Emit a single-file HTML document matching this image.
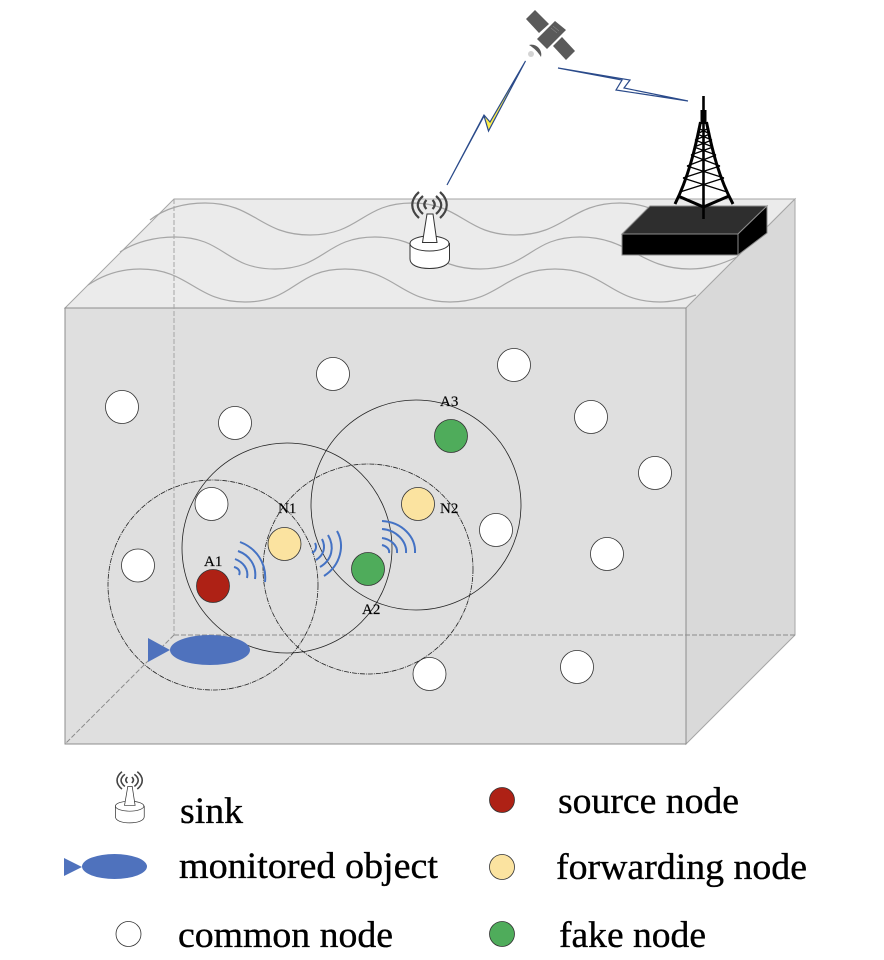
<!DOCTYPE html>
<html>
<head>
<meta charset="utf-8">
<style>
html,body{margin:0;padding:0;background:#fff;}
svg{display:block;}
text{font-family:"Liberation Serif",serif;fill:#000;}
</style>
</head>
<body>
<svg xmlns="http://www.w3.org/2000/svg" xmlns:xlink="http://www.w3.org/1999/xlink" width="884" height="960" viewBox="0 0 884 960">
<defs>
<g id="sink">
  <path d="M410,243.500V259C410,265 418,268.500 429.500,268.500C441,268.500 449.500,265 449.500,259V243.500Z" fill="#fff" stroke="#333" stroke-width="1"/>
  <ellipse cx="429.500" cy="243.500" rx="19.500" ry="7.500" fill="#fff" stroke="#333" stroke-width="1"/>
  <path d="M422.500,242.500L427,214H433L437,242.500Z" fill="#fff" stroke="#333" stroke-width="1"/>
  <g fill="none" stroke="#444" stroke-width="2.200">
    <path d="M419,192C410,200 410,210 419,218"/>
    <path d="M423,196C416,202 416,208 423,214"/>
    <path d="M426.500,200C423.500,203 423.500,206 426.500,209"/>
    <path d="M440,192C449,200 449,210 440,218"/>
    <path d="M436,196C443,202 443,208 436,214"/>
    <path d="M432.500,200C435.500,203 435.500,206 432.500,209"/>
  </g>
</g>
</defs>

<!-- box -->
<polygon points="65,308 174,199 795,199 686,308" fill="#ebebeb" stroke="#a6a6a6" stroke-width="1"/>
<polygon points="686,308 795,199 795,635 686,744" fill="#d9d9d9" stroke="#a6a6a6" stroke-width="1"/>
<rect x="65" y="308" width="621" height="436" fill="#dfdfdf" stroke="#8c8c8c" stroke-width="1"/>
<g fill="none" stroke="#a6a6a6" stroke-width="1" stroke-dasharray="5 2">
  <line x1="174" y1="199" x2="174" y2="635"/>
  <line x1="174" y1="635" x2="795" y2="635" stroke="#8c8c8c"/>
  <line x1="174" y1="635" x2="65" y2="744" stroke="#8c8c8c"/>
</g>

<!-- waves -->
<g fill="none" stroke="#a6a6a6" stroke-width="1.200">
  <path d="M150,220C165,208 185,203 205,203C255,203 260,235 310,235C360,235 362,203 412,203C462,203 465,235 515,235C565,235 570,203 620,203C632,203 642,205 652,209"/>
  <path d="M120,252C135,242 155,237 175,237C225,237 225,269 275,269C325,269 325,237 375,237C425,237 430,269 480,269C530,269 530,237 580,237C630,237 640,269 690,269C708,269 722,264 737,257"/>
  <path d="M88,285C103,275 120,269 140,269C190,269 195,302 245,302C295,302 295,269 345,269C395,269 400,302 450,302C500,302 505,269 555,269C605,269 610,302 660,302C672,302 684,299 696,295"/>
</g>

<!-- satellite -->
<g fill="#5a5a5a">
  <polygon points="535,10 549,24 539,33 526,19"/>
  <polygon points="555,21 566,30 547,49 537,39"/>
  <polygon points="562,37 575,51 566,60 553,46"/>
  <path d="M529,45C536,43 543,50 541,57C538,52 534,48 529,45Z"/>
  <circle cx="531" cy="54" r="3" fill="#d4d4d4"/>
</g>
<g stroke="#9a9a9a" stroke-width="0.500"><line x1="553" y1="26" x2="559" y2="31"/><line x1="551" y1="28" x2="557" y2="33"/></g>

<!-- lightning bolts -->
<polygon points="525.500,61 488.500,131 484,116 447,185 484,115 490,122" fill="#ffef4a" stroke="#2a4a8a" stroke-width="1.200"/>
<polygon points="558,68 630,80 624,88 688,101 616,90 622,80" fill="#fff" stroke="#2a4a8a" stroke-width="1.200"/>

<!-- platform -->
<polygon points="622,234 650,206 767,206 738,234" fill="#2e2e2e" stroke="#8c8c8c" stroke-width="1"/>
<polygon points="738,234 767,206 767,233 738,255" fill="#000" stroke="#8c8c8c" stroke-width="1"/>
<rect x="622" y="234" width="116" height="21" fill="#000" stroke="#8c8c8c" stroke-width="1"/>

<!-- tower -->
<g fill="none" stroke="#000">
  <line x1="703.500" y1="96" x2="703.500" y2="219" stroke-width="2.600"/>
  <line x1="703.500" y1="110" x2="703.500" y2="124" stroke-width="6"/>
  <path d="M700.500,122C695,150 688,178 675,204" stroke-width="3"/>
  <path d="M706.500,122C712,150 719,178 733,204" stroke-width="3"/>
  <path d="M678,196L703.500,207L729,196" stroke-width="3"/>
  <g stroke-width="1.300">
    <path d="M680,192L724,178M727,192L683,178"/>
    <path d="M683,178L720,166M724,178L687,166"/>
    <path d="M687,166L716,155M720,166L691,155"/>
    <path d="M691,155L713,147M716,155L694,147"/>
    <path d="M694,147L712,140M713,147L695,140"/>
    <path d="M695,140L710,134M712,140L697,134"/>
    <path d="M697,134L709,128M710,134L698,128"/>
  </g>
</g>

<!-- sink -->
<use xlink:href="#sink" href="#sink"/>

<!-- common nodes -->
<g fill="#fff" stroke="#333" stroke-width="0.800">
  <circle cx="122" cy="407" r="16.500"/>
  <circle cx="235" cy="423" r="16.500"/>
  <circle cx="333" cy="374" r="16.500"/>
  <circle cx="514" cy="365" r="16.500"/>
  <circle cx="591" cy="417" r="16.500"/>
  <circle cx="655" cy="473" r="16.500"/>
  <circle cx="607" cy="554" r="16.500"/>
  <circle cx="496" cy="530" r="16.500"/>
  <circle cx="211.500" cy="504" r="16.500"/>
  <circle cx="138" cy="565.500" r="16.500"/>
  <circle cx="429.500" cy="674" r="16.500"/>
  <circle cx="577" cy="667" r="16.500"/>
</g>
<circle cx="213" cy="586" r="16.500" fill="#ae2115" stroke="#333" stroke-width="0.800"/>
<circle cx="284.500" cy="544" r="16.500" fill="#fbe3a0" stroke="#333" stroke-width="0.800"/>
<circle cx="418" cy="504" r="16.500" fill="#fbe3a0" stroke="#333" stroke-width="0.800"/>
<circle cx="451" cy="436" r="16.500" fill="#4fac5b" stroke="#333" stroke-width="0.800"/>
<circle cx="368" cy="569" r="16.500" fill="#4fac5b" stroke="#333" stroke-width="0.800"/>

<!-- range circles -->
<g fill="none" stroke="#222" stroke-width="0.800">
  <circle cx="213" cy="585" r="105" stroke-dasharray="5 1 1 1"/>
  <circle cx="287" cy="548" r="105"/>
  <circle cx="368" cy="569" r="105" stroke-dasharray="5 1 1 1"/>
  <circle cx="416" cy="505" r="105"/>
</g>

<!-- signal arcs -->
<g fill="none" stroke="#4472c4" stroke-width="2">
  <path d="M240,542C256,548 267,563 265,582"/>
  <path d="M238,551C249,555 257,565 255,579"/>
  <path d="M235,559C243,562 249,569 247,578"/>
  <path d="M234,567C238,568 241,571 239,575"/>
  <path d="M337,531C345,545 341,565 324,576"/>
  <path d="M328,535C335,547 332,560 320,567"/>
  <path d="M322,539C326,547 324,555 316,560"/>
  <path d="M315,543C317,547 316,551 312,553"/>
  <path d="M382,521C402,522 416,537 415,553"/>
  <path d="M382,529C396,530 407,541 406,553"/>
  <path d="M382,538C390,539 398,545 397,553"/>
  <path d="M382,545C386,546 390,549 389,553"/>
</g>

<!-- fish -->
<ellipse cx="210" cy="650" rx="40" ry="15" fill="#4f72bd"/>
<polygon points="148,638 170,650 148,662" fill="#4f72bd"/>

<!-- node labels -->
<g font-size="15" stroke="#000" stroke-width="0.150">
  <text x="204" y="566">A1</text>
  <text x="278" y="513">N1</text>
  <text x="440" y="513">N2</text>
  <text x="362" y="614">A2</text>
  <text x="440" y="406">A3</text>
</g>

<!-- legend icons -->
<g transform="translate(-183.900,643) scale(0.73,0.67)"><use xlink:href="#sink" href="#sink"/></g>
<ellipse cx="114.500" cy="866.500" rx="32.500" ry="12.500" fill="#4f72bd"/>
<polygon points="64,858 82,867 64,876" fill="#4f72bd"/>
<circle cx="128.500" cy="934" r="12.500" fill="#fff" stroke="#333" stroke-width="0.800"/>
<circle cx="502" cy="800" r="12.500" fill="#ae2115" stroke="#333" stroke-width="0.800"/>
<circle cx="502" cy="867" r="12.500" fill="#fbe3a0" stroke="#333" stroke-width="0.800"/>
<circle cx="502" cy="934" r="12.500" fill="#4fac5b" stroke="#333" stroke-width="0.800"/>

<!-- legend text -->
<g font-size="37" stroke="#000" stroke-width="0.350">
  <text x="180" y="823" textLength="63" lengthAdjust="spacingAndGlyphs">sink</text>
  <text x="179" y="878" textLength="259" lengthAdjust="spacingAndGlyphs">monitored object</text>
  <text x="178" y="947" textLength="215" lengthAdjust="spacingAndGlyphs">common node</text>
  <text x="558" y="813" textLength="181" lengthAdjust="spacingAndGlyphs">source node</text>
  <text x="556" y="879" textLength="251" lengthAdjust="spacingAndGlyphs">forwarding node</text>
  <text x="559" y="947" textLength="147" lengthAdjust="spacingAndGlyphs">fake node</text>
</g>
</svg>
</body>
</html>
